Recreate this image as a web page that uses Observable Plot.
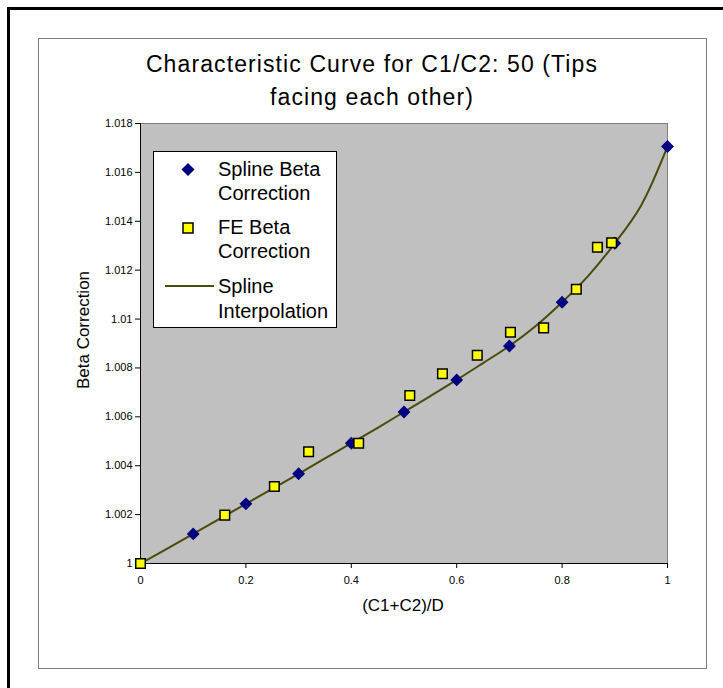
<!DOCTYPE html>
<html><head><meta charset="utf-8">
<script src="https://cdn.jsdelivr.net/npm/d3@7"></script>
<script src="https://cdn.jsdelivr.net/npm/@observablehq/plot@0.6"></script>
<style>
body{margin:0;background:#fff;}
#wrap{position:relative;width:723px;height:688px;overflow:hidden;font-family:"Liberation Sans",Arial,sans-serif;color:#000;}
#outer{position:absolute;left:7px;top:7px;width:800px;height:800px;border-left:3px solid #000;border-top:3px solid #000;}
#inner{position:absolute;left:38px;top:38px;width:667px;height:629px;border:1px solid #808080;background:#fff;}
#chart{position:absolute;left:0;top:0;}
#title{position:absolute;left:38px;width:668px;top:48px;text-align:center;font-size:23px;line-height:33px;letter-spacing:1.1px;}
#ylab{position:absolute;left:84px;top:330px;transform:translate(-50%,-50%) rotate(-90deg);font-size:17px;white-space:nowrap;}
#xlab{position:absolute;left:403px;top:597px;transform:translateX(-50%);font-size:17px;line-height:17px;white-space:nowrap;}
#legend{position:absolute;left:153px;top:151px;width:184px;height:177px;box-sizing:border-box;border:1px solid #000;background:#fff;}
.lt{position:absolute;left:64px;font-size:20px;line-height:24px;white-space:nowrap;}
#legsym{position:absolute;left:0;top:0;}
</style>
</head><body>
<div id="wrap">
  <div id="outer"></div>
  <div id="inner"></div>
  <div id="title">Characteristic Curve for C1/C2: 50 (Tips<br>facing each other)</div>
  <div id="chart"></div>
  <div id="ylab">Beta Correction</div>
  <div id="xlab">(C1+C2)/D</div>
  <div id="legend">
    <svg id="legsym" width="184" height="177">
      <path d="M34,11 L40.5,17.5 L34,24 L27.5,17.5 Z" fill="#000080"/>
      <rect x="29" y="71" width="10" height="10" fill="#ffff00" stroke="#000" stroke-width="1.5"/>
      <line x1="11" y1="134" x2="60" y2="134" stroke="#4a4a0a" stroke-width="2"/>
    </svg>
    <div class="lt" style="top:5px">Spline Beta</div>
    <div class="lt" style="top:29px">Correction</div>
    <div class="lt" style="top:63px">FE Beta</div>
    <div class="lt" style="top:87px">Correction</div>
    <div class="lt" style="top:122px">Spline</div>
    <div class="lt" style="top:147px">Interpolation</div>
  </div>
</div>
<script>
// Spline Beta Correction (diamonds)
const splineX = [0.1, 0.2, 0.3, 0.4, 0.5, 0.6, 0.7, 0.8, 0.9, 1.0];
const splineY = [1.00121, 1.00244, 1.00367, 1.00492, 1.0062, 1.00751, 1.0089, 1.01069, 1.0131, 1.01706];
// FE Beta Correction (squares)
const feX = [0, 0.16, 0.254, 0.319, 0.414, 0.511, 0.573, 0.639, 0.702, 0.765, 0.827, 0.867, 0.894];
const feY = [1.0, 1.00198, 1.00315, 1.00457, 1.00492, 1.00687, 1.00776, 1.00852, 1.00946, 1.00964, 1.01122, 1.01294, 1.01312];
// Spline Interpolation (line)
const curveX = [0, 0.05, 0.1, 0.15, 0.2, 0.25, 0.3, 0.35, 0.4, 0.45, 0.5, 0.55, 0.6, 0.65, 0.7, 0.75, 0.8, 0.85, 0.9, 0.95, 1.0];
const curveY = [1.0, 1.0006, 1.00121, 1.00183, 1.00244, 1.00305, 1.00367, 1.0043, 1.00492, 1.00555, 1.0062, 1.00685, 1.00751, 1.0082, 1.0089, 1.00972, 1.01069, 1.01178, 1.0131, 1.01465, 1.01706];
// Ticks
const xTicks = [0, 0.2, 0.4, 0.6, 0.8, 1];
const yTicks = [1, 1.002, 1.004, 1.006, 1.008, 1.01, 1.012, 1.014, 1.016, 1.018];

const spline = splineX.map((x, i) => ({x, y: splineY[i]}));
const fe = feX.map((x, i) => ({x, y: feY[i]}));
const curve = curveX.map((x, i) => ({x, y: curveY[i]}));

const chart = Plot.plot({
  width: 723, height: 688,
  marginLeft: 140, marginRight: 56, marginTop: 123, marginBottom: 125,
  x: {domain: [0, 1]},
  y: {domain: [1, 1.018]},
  style: {background: "transparent", fontFamily: "'Liberation Sans', Arial, sans-serif", fontSize: "11px", color: "#000"},
  marks: [
    Plot.frame({fill: "#c0c0c0", stroke: "#808080"}),
    Plot.axisX({ticks: xTicks, tickFormat: d => String(d), tickSize: 5, tickPadding: 8, label: null}),
    Plot.axisY({ticks: yTicks, tickFormat: d => String(+d.toFixed(3)), tickSize: 5, tickPadding: 3, label: null}),
    Plot.ruleX([0], {stroke: "#000"}),
    Plot.ruleY([1], {stroke: "#000"}),
    Plot.line(curve, {x: "x", y: "y", stroke: "#4a4a0a", strokeWidth: 2, curve: "catmull-rom"}),
    Plot.dot(spline, {x: "x", y: "y", symbol: "diamond2", r: 5.8, fill: "#000080"}),
    Plot.dot(fe, {x: "x", y: "y", symbol: "square", r: 5.4, fill: "#ffff00", stroke: "#000", strokeWidth: 1.5})
  ]
});
document.getElementById("chart").appendChild(chart);
</script>
</body></html>
